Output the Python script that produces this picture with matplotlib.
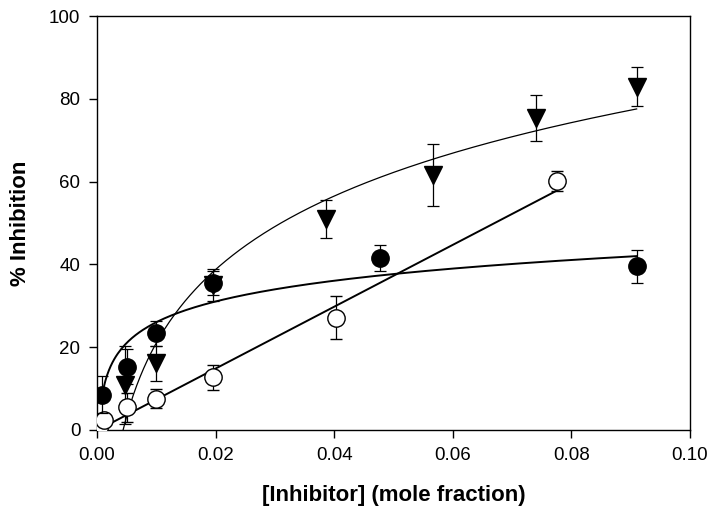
import numpy as np
import matplotlib
matplotlib.use("Agg")
import matplotlib.pyplot as plt
from matplotlib import rcParams

rcParams['font.family'] = ['Liberation Sans', 'DejaVu Sans']

# filled circles
fc_x = [0.0008, 0.0050, 0.0100, 0.0196, 0.0477, 0.0910]
fc_y = [8.5, 15.3, 23.4, 35.5, 41.5, 39.5]
fc_err = [4.5, 4.3, 3.0, 3.0, 3.2, 4.0]

# open circles
oc_x = [0.0004, 0.0011, 0.0050, 0.0100, 0.0196, 0.0403, 0.0775]
oc_y = [0.4, 2.3, 5.5, 7.6, 12.7, 27.1, 60.1]
oc_err = [0.8, 1.0, 3.5, 2.4, 3.0, 5.2, 2.4]

# filled triangles
tr_x = [0.0047, 0.0100, 0.0196, 0.0386, 0.0566, 0.0741, 0.0910]
tr_y = [10.9, 16.1, 35.0, 50.9, 61.6, 75.3, 82.9]
tr_err = [9.5, 4.3, 3.8, 4.6, 7.6, 5.5, 4.7]

# fitted curves (parameters)
fc_fit = dict(y_end=42.0, x_end=0.091, a=7.23)   # y = y_end + a*ln(x/x_end)
oc_fit = dict(slope=747.0, icpt=-0.1)            # y = icpt + slope*x
tr_fit = dict(a=25.6, x0=0.0044)                  # y = a*ln(x/x0)

fig = plt.figure(figsize=(7.15, 5.21), dpi=100)
ax = fig.add_axes([97 / 715, 1 - 430 / 521, (690 - 97) / 715, (430 - 16) / 521])

# curves
xs = np.linspace(0.0008, 0.091, 300)
ax.plot(xs, fc_fit['y_end'] + fc_fit['a'] * np.log(xs / fc_fit['x_end']),
        color='black', lw=1.4, zorder=2)
xs = np.linspace(0.0004, 0.0776, 50)
ax.plot(xs, oc_fit['icpt'] + oc_fit['slope'] * xs, color='black', lw=1.4, zorder=2)
xs = np.linspace(tr_fit['x0'], 0.091, 300)
ax.plot(xs, tr_fit['a'] * np.log(xs / tr_fit['x0']), color='black', lw=0.9, zorder=2)

ekw = dict(ecolor='black', elinewidth=0.9, capsize=4, capthick=0.9, ls='none')
ax.errorbar(tr_x, tr_y, yerr=tr_err, marker='v', ms=13, mfc='black', mec='black',
            zorder=3, **ekw)
ax.errorbar(oc_x, oc_y, yerr=oc_err, marker='o', ms=12.5, mfc='white', mec='black',
            mew=1.0, zorder=4, **ekw)
ax.errorbar(fc_x, fc_y, yerr=fc_err, marker='o', ms=12.5, mfc='black', mec='black',
            zorder=5, **ekw)

ax.set_xlim(0, 0.1)
ax.set_ylim(0, 100)
ax.set_xticks(np.arange(0, 0.101, 0.02))
ax.set_yticks(np.arange(0, 101, 20))
ax.xaxis.set_major_formatter(matplotlib.ticker.FormatStrFormatter('%.2f'))
ax.tick_params(direction='out', length=6, width=1, labelsize=13.5, pad=6,
               top=False, right=False)
for s in ax.spines.values():
    s.set_linewidth(1.0)

ax.set_xlabel("[Inhibitor] (mole fraction)", fontsize=16, fontweight='bold', labelpad=15)
ax.set_ylabel("% Inhibition", fontsize=16, fontweight='bold', labelpad=13)

plt.savefig("out.png", dpi=100)
